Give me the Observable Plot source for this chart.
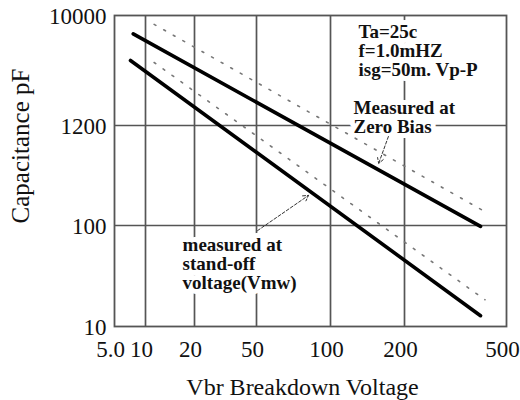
<!DOCTYPE html>
<html>
<head>
<meta charset="utf-8">
<script src="https://cdn.jsdelivr.net/npm/d3@7"></script>
<script src="https://cdn.jsdelivr.net/npm/@observablehq/plot@0.6"></script>
<style>
  html, body { margin: 0; padding: 0; background: #fff; }
</style>
</head>
<body>
<div id="chart"></div>
<script>
// ---- data ----
const xTicks = [5, 10, 20, 50, 100, 200, 500];
const xTickLabels = ["5.0", "10", "20", "50", "100", "200", "500"];
const yTicks = [10, 100, 1000, 10000];
const yTickLabels = ["10", "100", "1200", "10000"];
const xGrid = [10, 20, 50, 100, 200];
const yGrid = [100, 1000];

// solid curves (measured)
const zeroBiasV = [7.6, 396];
const zeroBiasPF = [6800, 98];
const standoffV = [7.15, 396];
const standoffPF = [3900, 12.8];
// dotted curves
const zeroBiasDotV = [11.3, 405];
const zeroBiasDotPF = [8300, 141];
const standoffDotV = [11.3, 412];
const standoffDotPF = [3740, 18.4];

// annotations
const noteText = ["Ta=25c\nf=1.0mHZ\nisg=50m. Vp-P", "Measured at\nZero Bias", "measured at\nstand-off\nvoltage(Vmw)"];
const noteV = [130, 124, 16.9];
const notePF = [4808, 1195, 42.1];
const arrowV1 = [172, 50.5];
const arrowPF1 = [776, 89];
const arrowV2 = [157, 81.4];
const arrowPF2 = [417, 200];

const xTitle = "Vbr Breakdown Voltage";
const yTitle = "Capacitance pF";

// ---- build tables ----
const series = [
  {v: zeroBiasV, c: zeroBiasPF, name: "zero"},
  {v: standoffV, c: standoffPF, name: "standoff"}
].flatMap(s => s.v.map((v, i) => ({v, c: s.c[i], name: s.name})));
const dotted = [
  {v: zeroBiasDotV, c: zeroBiasDotPF, name: "zeroDot"},
  {v: standoffDotV, c: standoffDotPF, name: "standoffDot"}
].flatMap(s => s.v.map((v, i) => ({v, c: s.c[i], name: s.name})));
const notes = noteText.map((t, i) => ({t, v: noteV[i], c: notePF[i]}));
const arrows = arrowV1.map((v, i) => ({v1: v, c1: arrowPF1[i], v2: arrowV2[i], c2: arrowPF2[i]}));
const xLabelRows = xTicks.map((v, i) => ({v, t: xTickLabels[i]}));
const yLabelRows = yTicks.map((c, i) => ({c, t: yTickLabels[i]}));

const font = "'Liberation Serif', 'Times New Roman', serif";

const chart = Plot.plot({
  width: 520,
  height: 400,
  marginLeft: 114,
  marginRight: 14,
  marginTop: 15,
  marginBottom: 74,
  style: {fontFamily: font, fontSize: "22px", color: "#111", background: "#fff"},
  x: {type: "log", domain: xTicks, range: [114, 145, 194, 256, 330, 404, 506], axis: null},
  y: {type: "log", domain: yTicks, range: [326, 225, 125, 15], axis: null},
  marks: [
    Plot.ruleX(xGrid, {stroke: "#555", strokeWidth: 1.7}),
    Plot.ruleY(yGrid, {stroke: "#555", strokeWidth: 1.7}),
    Plot.frame({stroke: "#555", strokeWidth: 1.8}),
    Plot.text(xLabelRows, {
      x: "v", text: "t", frameAnchor: "bottom", textAnchor: "middle", lineAnchor: "middle",
      dy: 23, dx: -4, fontSize: 23, fill: "#111"
    }),
    Plot.text(yLabelRows, {
      y: "c", text: "t", frameAnchor: "left", textAnchor: "end", lineAnchor: "middle",
      dx: -8, dy: 1, fontSize: 23, fill: "#111"
    }),
    Plot.text([xTitle], {frameAnchor: "bottom", textAnchor: "middle", lineAnchor: "middle", dx: -8, dy: 61, fontSize: 24, fill: "#111"}),
    Plot.text([yTitle], {frameAnchor: "left", textAnchor: "middle", lineAnchor: "middle", dx: -94, dy: -25, rotate: -90, fontSize: 25, fill: "#111"}),
    Plot.text(notes, {
      x: "v", y: "c", text: "t", textAnchor: "start", lineAnchor: "middle",
      lineHeight: 1, fontSize: 19, fontWeight: "bold", fill: "#111",
      stroke: "white", strokeWidth: 10
    }),
    Plot.line(dotted, {x: "v", y: "c", z: "name", stroke: "#777", strokeWidth: 1.6, strokeDasharray: "2,9"}),
    Plot.line(series, {x: "v", y: "c", z: "name", stroke: "#000", strokeWidth: 3.6}),
    Plot.arrow(arrows, {
      x1: "v1", y1: "c1", x2: "v2", y2: "c2",
      stroke: "#333", strokeWidth: 1, strokeDasharray: "3,2", headLength: 9
    })
  ]
});
document.getElementById("chart").appendChild(chart);
</script>
</body>
</html>
